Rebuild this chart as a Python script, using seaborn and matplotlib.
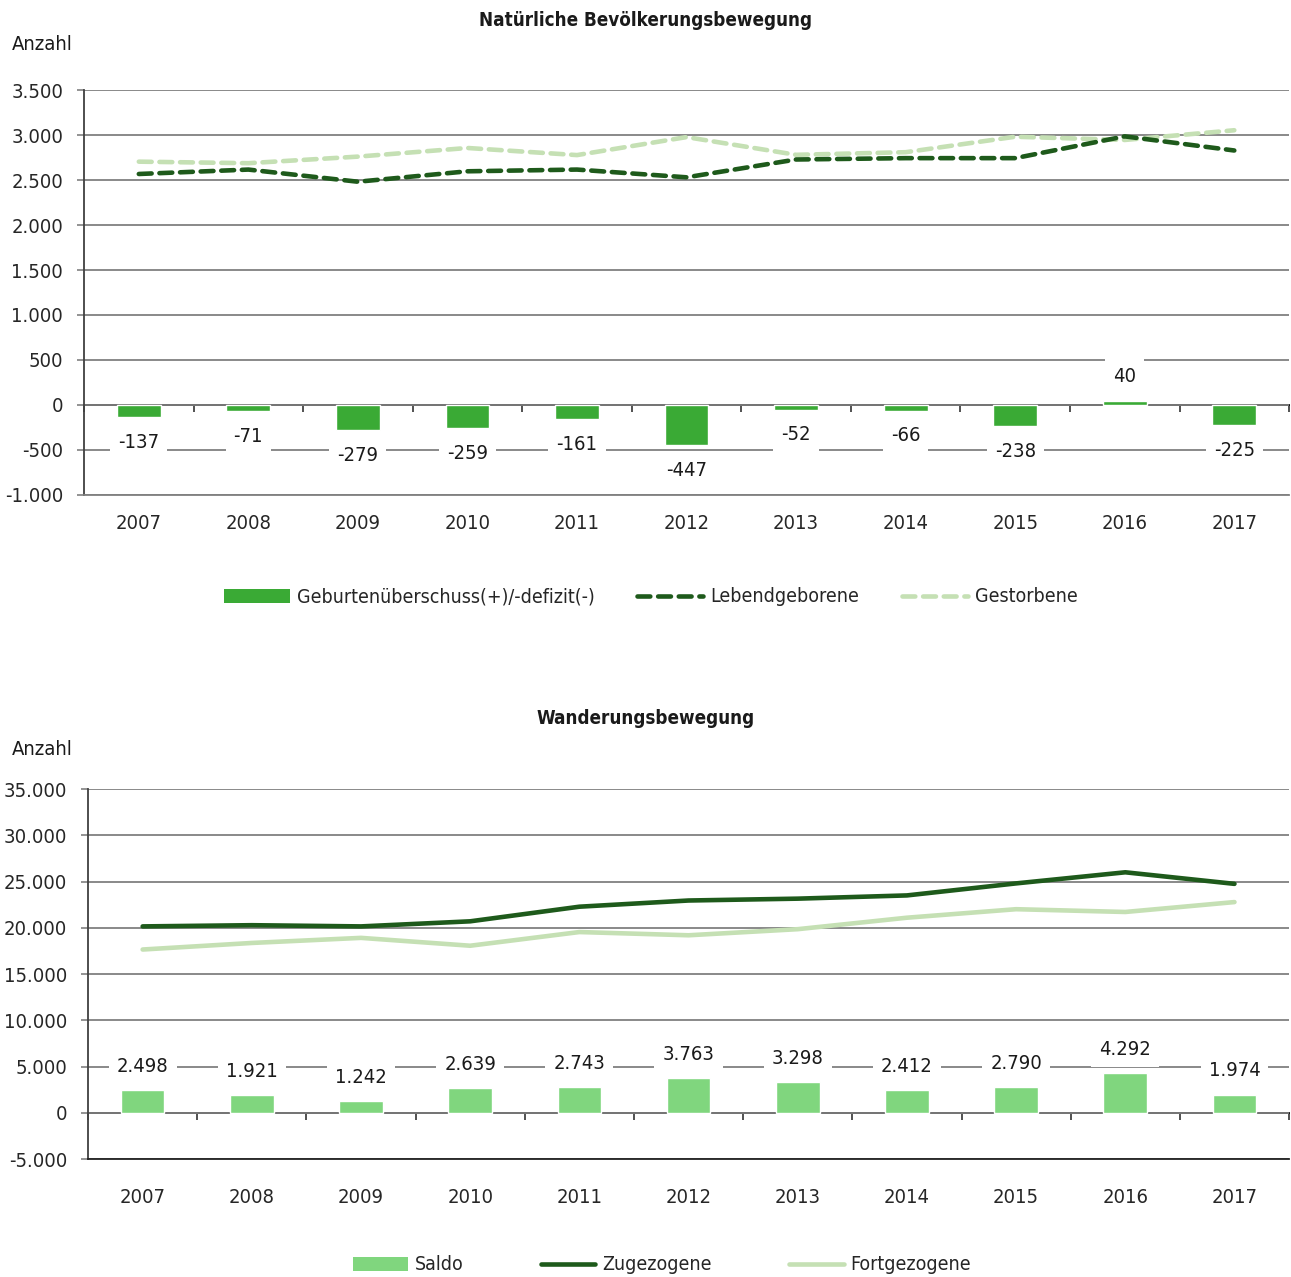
import matplotlib
matplotlib.use('Agg')
import matplotlib.pyplot as plt
import seaborn as sns
import numpy as np
import pandas as pd
from matplotlib.ticker import FuncFormatter, FixedLocator, NullFormatter
from matplotlib.patches import Patch
from matplotlib.lines import Line2D

# Daten
jahre = [str(j) for j in range(2007, 2018)]
geburtensaldo = [-137, -71, -279, -259, -161, -447, -52, -66, -238, 40, -225]
lebendgeborene = [2567, 2616, 2481, 2597, 2616, 2530, 2728, 2743, 2743, 2985, 2828]
gestorbene = [2704, 2687, 2760, 2856, 2777, 2977, 2780, 2809, 2981, 2945, 3053]

wanderungssaldo = [2498, 1921, 1242, 2639, 2743, 3763, 3298, 2412, 2790, 4292, 1974]
zugezogene = [20150, 20280, 20150, 20700, 22280, 22950, 23150, 23500, 24800, 26000, 24750]
fortgezogene = [17650, 18360, 18910, 18060, 19540, 19190, 19850, 21090, 22010, 21710, 22780]

# Farben
BAR_DUNKEL = '#3aaa35'
BAR_HELL = '#80d67e'
LINIE_DUNKEL = '#1e5a1b'
LINIE_HELL = '#c5e0b4'
GRID = '#808080'

sns.set_theme(style='white')
plt.rcParams['font.family'] = ['DejaVu Sans']
plt.rcParams['font.stretch'] = 'condensed'

FS = 14.5
FS_LEG = 14


def de_format(v, pos=None):
    return f'{int(v):,}'.replace(',', '.')


def setup_axis(ax, yticks, ylim, bottom_color, pad_x):
    n = len(jahre)
    ax.set_xlim(-0.5, n - 0.5)
    ax.set_ylim(*ylim)
    ax.yaxis.set_major_locator(FixedLocator(yticks))
    ax.yaxis.set_major_formatter(FuncFormatter(de_format))
    ax.set_axisbelow(True)
    ax.grid(axis='y', color=GRID, lw=1.3)
    ax.grid(axis='x', visible=False)
    for s in ['top', 'right']:
        ax.spines[s].set_visible(False)
    ax.spines['left'].set_color('#404040')
    ax.spines['left'].set_linewidth(1.3)
    ax.spines['bottom'].set_color(bottom_color)
    ax.spines['bottom'].set_linewidth(1.3)
    ax.tick_params(axis='y', direction='out', length=5, width=1.2, color=GRID,
                   pad=10, labelsize=FS, left=True)
    ax.set_xticks(range(n))
    ax.set_xticklabels(jahre)
    ax.tick_params(axis='x', length=0, pad=pad_x, labelsize=FS)
    ax.set_xlabel('')
    ax.set_ylabel('')
    # Nulllinie mit Teilstrichen zwischen den Kategorien
    null_pos = (0 - ylim[0]) / (ylim[1] - ylim[0])
    sec = ax.secondary_xaxis(null_pos)
    sec.set_alignment('bottom')
    sec.spines['bottom'].set_color('black')
    sec.spines['bottom'].set_linewidth(1.3)
    sec.set_xticks(np.arange(-0.5, n, 1.0))
    sec.xaxis.set_major_formatter(NullFormatter())
    sec.tick_params(axis='x', direction='out', length=5, width=1.2, color='#333333')


def beschriften(ax, werte, abstand):
    for i, v in enumerate(werte):
        off = abstand if v >= 0 else -abstand
        ax.annotate(de_format(v), xy=(i, v), xytext=(0, off), textcoords='offset points',
                    ha='center', va='center', fontsize=FS, color='#1a1a1a', zorder=5,
                    bbox=dict(boxstyle='square,pad=0.4', fc='white', ec='none'))


fig = plt.figure(figsize=(12.91, 12.77), dpi=100)
ax1 = fig.add_axes([0.0651, 0.6124, 0.9334, 0.3171])
ax2 = fig.add_axes([0.0682, 0.0924, 0.9303, 0.2897])

# Oberes Diagramm
df1 = pd.DataFrame({'pos': range(len(jahre)), 'jahr': jahre, 'saldo': geburtensaldo,
                    'lebend': lebendgeborene, 'gestorben': gestorbene})
sns.barplot(data=df1, x='jahr', y='saldo', color=BAR_DUNKEL, width=0.4,
            saturation=1, ax=ax1, zorder=2)
sns.lineplot(data=df1, x='pos', y='gestorben', color=LINIE_HELL, lw=3.3,
             linestyle=(0, (2.8, 1.7)), dash_capstyle='round', ax=ax1, zorder=3)
sns.lineplot(data=df1, x='pos', y='lebend', color=LINIE_DUNKEL, lw=3.3,
             linestyle=(0, (2.8, 1.7)), dash_capstyle='round', ax=ax1, zorder=4)
setup_axis(ax1, list(range(-1000, 3501, 500)), (-1000, 3500), GRID, 14)
beschriften(ax1, geburtensaldo, 18)

# Unteres Diagramm
df2 = pd.DataFrame({'pos': range(len(jahre)), 'jahr': jahre, 'saldo': wanderungssaldo,
                    'zu': zugezogene, 'fort': fortgezogene})
sns.barplot(data=df2, x='jahr', y='saldo', color=BAR_HELL, width=0.4,
            saturation=1, ax=ax2, zorder=2)
sns.lineplot(data=df2, x='pos', y='fort', color=LINIE_HELL, lw=3.3,
             solid_capstyle='round', ax=ax2, zorder=3)
sns.lineplot(data=df2, x='pos', y='zu', color=LINIE_DUNKEL, lw=3.3,
             solid_capstyle='round', ax=ax2, zorder=4)
setup_axis(ax2, list(range(-5000, 35001, 5000)), (-5000, 35000), '#222222', 21)
beschriften(ax2, wanderungssaldo, 17)

# Titel und Achsenbeschriftungen
fig.text(0.5, 1 - 21 / 1277, 'Natürliche Bevölkerungsbewegung', ha='center', va='center',
         fontsize=13.5, weight='bold', color='#1a1a1a')
fig.text(0.5, 1 - 718 / 1277, 'Wanderungsbewegung', ha='center', va='center',
         fontsize=13.5, weight='bold', color='#1a1a1a')
fig.text(12 / 1291, 1 - 45 / 1277, 'Anzahl', ha='left', va='center', fontsize=FS, color='#1a1a1a')
fig.text(12 / 1291, 1 - 750 / 1277, 'Anzahl', ha='left', va='center', fontsize=FS, color='#1a1a1a')

# Legenden
h1 = [Patch(facecolor=BAR_DUNKEL, edgecolor='none'),
      Line2D([], [], color=LINIE_DUNKEL, lw=3.3, linestyle=(0, (2.8, 1.7)), dash_capstyle='round'),
      Line2D([], [], color=LINIE_HELL, lw=3.3, linestyle=(0, (2.8, 1.7)), dash_capstyle='round')]
fig.legend(h1, ['Geburtenüberschuss(+)/-defizit(-)', 'Lebendgeborene', 'Gestorbene'],
           loc='center', bbox_to_anchor=(0.504, 1 - 597 / 1277), ncol=3, frameon=False,
           fontsize=FS_LEG, handlelength=3.4, handleheight=0.75, handletextpad=0.35,
           columnspacing=2.2)

h2 = [Patch(facecolor=BAR_HELL, edgecolor='none'),
      Line2D([], [], color=LINIE_DUNKEL, lw=3.3, solid_capstyle='round'),
      Line2D([], [], color=LINIE_HELL, lw=3.3, solid_capstyle='round')]
fig.legend(h2, ['Saldo', 'Zugezogene', 'Fortgezogene'],
           loc='center', bbox_to_anchor=(0.513, 1 - 1265 / 1277), ncol=3, frameon=False,
           fontsize=FS_LEG, handlelength=2.8, handleheight=0.75, handletextpad=0.35,
           columnspacing=4.0)

fig.savefig('out.png', dpi=100)
